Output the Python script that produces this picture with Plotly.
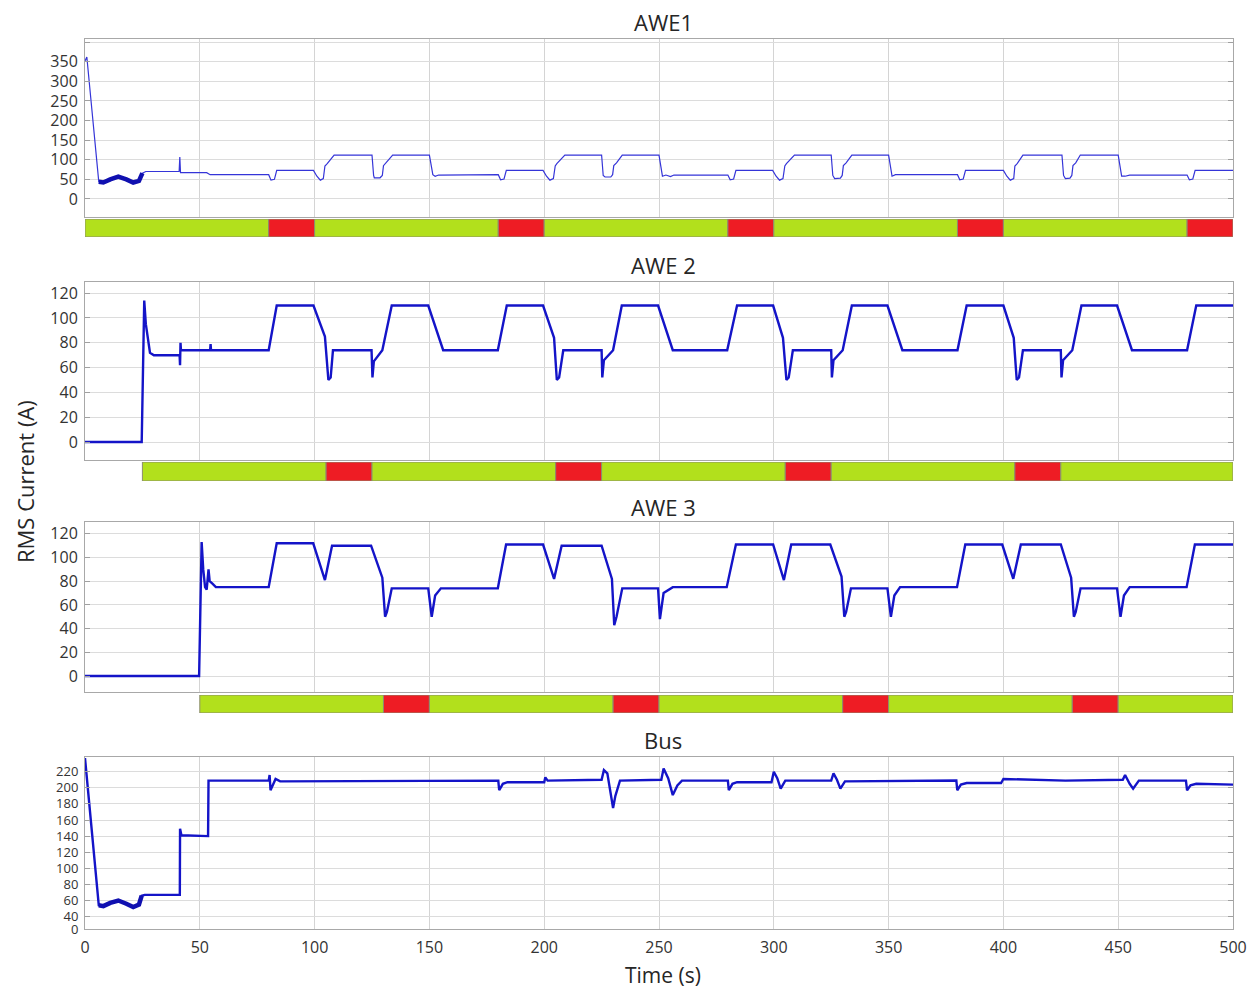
import plotly.graph_objects as go

# ---------------- data ----------------
awe1_t = [0, 0.8, 6, 8, 11, 14.5, 18, 21, 23.5, 25, 26.5, 41, 41.3, 41.6, 53, 54.5, 80, 81, 82.5, 83.5,
          99.5, 101, 102.5, 103.8, 104.5, 105.5, 108.5, 125, 125.7, 126, 128.5, 129.5, 130, 131, 134,
          150, 151.5, 152.5, 154, 180, 181, 182.5, 183.5, 199.5, 201, 202.5, 204, 204.8, 205.5, 209,
          225, 225.7, 226.5, 229, 229.8, 230.3, 231.5, 234, 250, 251.5, 253, 255, 256.5, 280, 281, 282.5,
          283.5, 299.5, 301, 302.5, 304, 304.8, 305.5, 309, 325, 325.7, 326.5, 329, 329.8, 330.3, 331.5,
          334, 350, 351.5, 353, 380, 381, 382.5, 383.5, 400, 401.5, 403, 404.5, 405, 406, 408.5, 425.5,
          426.2, 427, 429, 429.8, 430.3, 431.5, 433.5, 450, 451.5, 453, 455, 480, 481, 482.5, 483.5, 500]
awe1_v = [352, 362, 44, 42, 50, 57, 50, 42, 46, 66, 70, 70, 107, 67, 67, 62, 62, 48, 50, 73,
          73, 58, 48, 52, 84, 90, 112, 112, 60, 54, 54, 60, 85, 92, 112,
          112, 62, 58, 61, 62, 49, 51, 73, 73, 58, 48, 52, 84, 90, 112,
          112, 60, 56, 56, 62, 85, 92, 112, 112, 58, 61, 57, 61, 61, 49, 51,
          73, 73, 58, 48, 52, 84, 90, 112, 112, 60, 52, 53, 60, 85, 92,
          112, 112, 58, 62, 62, 49, 51, 73, 73, 58, 48, 52, 84, 90, 112, 112,
          60, 52, 53, 60, 85, 92, 112, 112, 58, 58, 61, 61, 49, 51, 73, 73]

awe2_t = [0, 24.7, 25.8, 26.5, 28.3, 30, 41.2, 41.4, 41.6, 41.8, 54.5, 54.7, 54.9, 80, 83.5, 99.5,
          104.5, 106, 107, 108, 124.8, 125.2, 125.8, 128.5, 129.5, 133.6, 149.5, 156, 179.8, 183.7,
          199.5, 204.3, 205.5, 206.5, 208.3, 225, 225.3, 226, 229, 230, 233.8, 249.6, 256, 279.7, 284,
          299.7, 304, 305.5, 306.5, 308.3, 325, 325.3, 326, 329, 330, 334, 349.5, 356, 380, 384,
          400, 404.5, 405.8, 406.8, 408.5, 425, 425.3, 426, 429, 430, 434, 449.5, 456, 480, 484, 500]
awe2_v = [0, 0, 114, 95, 72, 70, 70, 62, 80, 74, 74, 79, 74, 74, 110, 110,
          85, 50, 52, 74, 74, 52, 65, 72, 74, 110, 110, 74, 74, 110,
          110, 84, 50, 52, 74, 74, 52, 66, 72, 74, 110, 110, 74, 74, 110,
          110, 84, 50, 52, 74, 74, 52, 66, 72, 74, 110, 110, 74, 74, 110,
          110, 84, 50, 52, 74, 74, 52, 66, 72, 74, 110, 110, 74, 74, 110, 110]

awe3_t = [0, 49.7, 50.8, 51.5, 52.3, 53, 53.8, 54.3, 55.5, 57, 80, 83.5, 99.4, 104.5, 107.6, 124.6,
          129.5, 130.7, 131.5, 133.6, 149.5, 151, 152.5, 155, 179.8, 183.4, 199.5, 204.3, 207.6, 225,
          229.5, 230.5, 231.5, 234, 249.6, 250.4, 252, 256, 279.5, 283.5, 299.7, 304.4, 307.6, 324.6,
          329.5, 330.7, 331.5, 333.6, 349.5, 351, 352.5, 355, 379.8, 383.4, 399.5, 404.3, 407.6, 425,
          429.5, 430.7, 431.5, 433.6, 449.5, 451, 452.5, 455, 479.8, 483.4, 500]
awe3_v = [0, 0, 113, 90, 75, 73, 90, 80, 78, 75, 75, 112, 112, 81, 110, 110,
          83, 50, 54, 74, 74, 50, 68, 74, 74, 111, 111, 82, 110, 110,
          82, 43, 50, 74, 74, 48, 70, 75, 75, 111, 111, 81, 111, 111,
          84, 50, 54, 74, 74, 50, 68, 75, 75, 111, 111, 82, 111, 111,
          83, 50, 54, 74, 74, 50, 68, 75, 75, 111, 111]

bus_t = [0, 6, 8, 11, 14.5, 18, 21, 23.5, 24.7, 26, 41.3, 41.4, 42, 53.6, 53.8, 80, 80.4, 80.8, 82, 83,
         85, 180, 180.4, 182, 184, 200, 200.5, 201.5, 225, 226, 227.5, 229, 230, 231, 233, 251, 252,
         254, 256, 258, 260, 280, 280.4, 282, 284, 299, 300, 301.5, 303, 305, 325, 326, 327.5, 329,
         331, 379.5, 379.9, 381.5, 384, 399, 400, 427, 452, 453, 455, 456.5, 459, 479.5, 480, 481.5,
         484, 500]
bus_v = [237, 54, 53, 57, 60, 56, 52, 55, 66, 67, 67, 149, 141, 140, 209, 209, 216, 197, 206, 211,
         208, 209, 197, 205, 207, 207, 213, 209, 210, 222, 218, 195, 175, 190, 209, 210, 224,
         212, 191, 203, 209, 209, 197, 205, 207, 207, 220, 212, 199, 209, 209, 218, 210, 199,
         208, 209, 197, 204, 206, 206, 211, 209, 210, 216, 205, 199, 209, 209, 197, 203,
         205, 204]

# status bars: segment start, end, state (1 = on/green, 0 = off/red)
bar1_start = [0, 80, 100, 180, 200, 280, 300, 380, 400, 480]
bar1_end = [80, 100, 180, 200, 280, 300, 380, 400, 480, 500]
bar1_state = [1, 0, 1, 0, 1, 0, 1, 0, 1, 0]

bar2_start = [25, 105, 125, 205, 225, 305, 325, 405, 425]
bar2_end = [105, 125, 205, 225, 305, 325, 405, 425, 500]
bar2_state = [1, 0, 1, 0, 1, 0, 1, 0, 1]

bar3_start = [50, 130, 150, 230, 250, 330, 350, 430, 450]
bar3_end = [130, 150, 230, 250, 330, 350, 430, 450, 500]
bar3_state = [1, 0, 1, 0, 1, 0, 1, 0, 1]

titles = ["AWE1", "AWE 2", "AWE 3", "Bus"]
x_ticks = [0, 50, 100, 150, 200, 250, 300, 350, 400, 450, 500]
awe1_ticks = [0, 50, 100, 150, 200, 250, 300, 350, 400]
awe1_ticktext = ["0", "50", "100", "150", "200", "250", "300", "350", ""]
awe_ticks = [0, 20, 40, 60, 80, 100, 120]
bus_ticks = [24.6, 40, 60, 80, 100, 120, 140, 160, 180, 200, 220]
bus_ticktext = ["0", "40", "60", "80", "100", "120", "140", "160", "180", "200", "220"]

# ---------------- layout geometry ----------------
W, H = 1252, 988
FONT = "Open Sans"
GREEN, RED = "#b2e01c", "#ee1c24"


def fy(py):
    return 1 - py / H


x_dom = [85 / W, 1233 / W]
dom = {
    1: [fy(217), fy(39)],
    2: [fy(237), fy(219)],
    3: [fy(460), fy(282)],
    4: [fy(481), fy(462)],
    5: [fy(692), fy(522)],
    6: [fy(713), fy(695)],
    7: [fy(929), fy(757)],
}

fig = go.Figure()

line_specs = [
    (1, awe1_t, awe1_v, "#3535d8", 1.2),
    (3, awe2_t, awe2_v, "#1414c8", 2.4),
    (5, awe3_t, awe3_v, "#1414c8", 2.4),
    (7, bus_t, bus_v, "#1414c8", 2.4),
]
for k, t, v, col, w in line_specs:
    fig.add_trace(go.Scatter(x=t, y=v, mode="lines", line=dict(color=col, width=w),
                             xaxis=f"x{k}", yaxis=f"y{k}", showlegend=False, hoverinfo="skip"))

# the start-up oscillation is drawn as a dense, thick band in the reference
for k, t, v, a, b in [(1, awe1_t, awe1_v, 2, 10), (7, bus_t, bus_v, 1, 9)]:
    fig.add_trace(go.Scatter(x=t[a:b], y=v[a:b], mode="lines", line=dict(color="#1010b0", width=4.5),
                             xaxis=f"x{k}", yaxis=f"y{k}", showlegend=False, hoverinfo="skip"))

for k, s, e, st in [(2, bar1_start, bar1_end, bar1_state),
                    (4, bar2_start, bar2_end, bar2_state),
                    (6, bar3_start, bar3_end, bar3_state)]:
    fig.add_trace(go.Bar(
        y=[0] * len(s), base=s, x=[b - a for a, b in zip(s, e)], orientation="h", width=1,
        marker=dict(color=[GREEN if q else RED for q in st], line=dict(color="#8c8c6e", width=1)),
        xaxis=f"x{k}", yaxis=f"y{k}", showlegend=False, hoverinfo="skip"))

layout = dict(width=W, height=H, margin=dict(l=0, r=0, t=0, b=0, pad=0, autoexpand=False),
              paper_bgcolor="white", plot_bgcolor="white", barmode="overlay",
              font=dict(family=FONT, color="#262626"))

plot_ranges = {1: [-46, 408], 3: [-14.5, 129], 5: [-13.5, 130], 7: [24.6, 238.3]}
plot_ticks = {1: (awe1_ticks, awe1_ticktext), 3: (awe_ticks, None), 5: (awe_ticks, None),
              7: (bus_ticks, bus_ticktext)}

for k in range(1, 8):
    xa = dict(domain=x_dom, range=[0, 500], anchor=f"y{k}", zeroline=False, automargin=False)
    if k in plot_ranges:
        xa.update(showgrid=True, gridcolor="#d4d4d4", gridwidth=1, tickvals=x_ticks,
                  showline=True, mirror=True, linecolor="#a8a8a8", linewidth=1,
                  ticks="", showticklabels=(k == 7),
                  tickfont=dict(family=FONT, size=16, color="#333333"), ticklabelstandoff=4)
        tv, tt = plot_ticks[k]
        fs = 13 if k == 7 else 16
        ya = dict(domain=dom[k], range=plot_ranges[k], anchor=f"x{k}", tickvals=tv,
                  showgrid=True, gridcolor="#dcdcdc", gridwidth=1, zeroline=False,
                  showline=True, mirror="ticks", linecolor="#a8a8a8", linewidth=1,
                  ticks="inside", ticklen=5, tickcolor="#a0a0a0", automargin=False,
                  tickfont=dict(family=FONT, size=fs, color="#333333"), ticklabelstandoff=3)
        if tt is not None:
            ya["ticktext"] = tt
    else:
        xa.update(visible=False)
        ya = dict(domain=dom[k], range=[-0.5, 0.5], anchor=f"x{k}", visible=False, automargin=False)
    layout[f"xaxis{k}"] = xa
    layout[f"yaxis{k}"] = ya

fig.update_layout(**layout)

title_py = [22, 265, 507, 740]
for txt, py in zip(titles, title_py):
    fig.add_annotation(text=txt, x=663 / W, y=fy(py), xref="paper", yref="paper",
                       showarrow=False, xanchor="center", yanchor="middle",
                       font=dict(family=FONT, size=22, color="#262626"))

fig.add_annotation(text="Time (s)", x=663 / W, y=fy(975), xref="paper", yref="paper",
                   showarrow=False, xanchor="center", yanchor="middle",
                   font=dict(family=FONT, size=21, color="#262626"))
fig.add_annotation(text="RMS Current (A)", x=25 / W, y=fy(482), xref="paper", yref="paper",
                   showarrow=False, xanchor="center", yanchor="middle", textangle=-90,
                   font=dict(family=FONT, size=22, color="#262626"))

fig.write_html("out.html")
